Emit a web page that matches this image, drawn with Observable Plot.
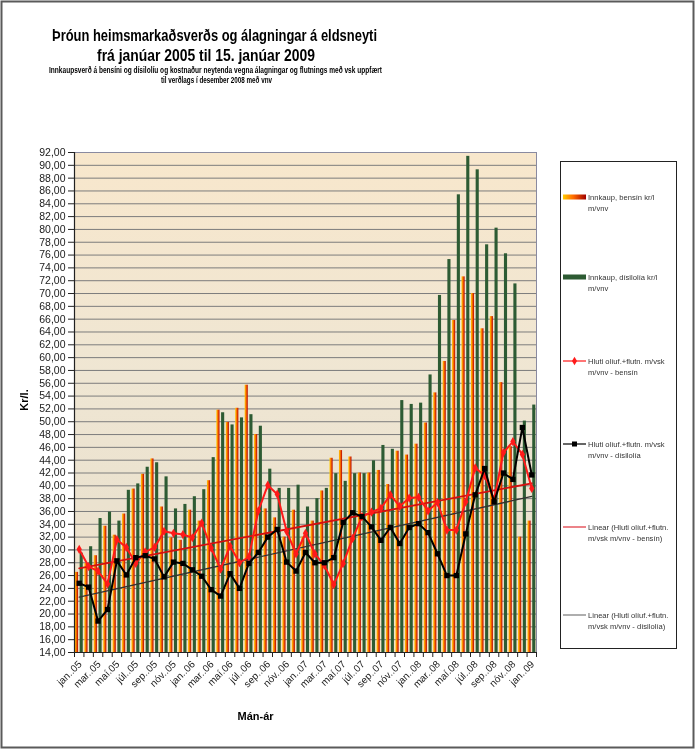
<!DOCTYPE html>
<html><head><meta charset="utf-8">
<script src="https://cdn.jsdelivr.net/npm/d3@7"></script>
<script src="https://cdn.jsdelivr.net/npm/@observablehq/plot@0.6"></script>
<style>
html,body{margin:0;padding:0;background:#fff;}
#wrap{position:relative;width:696px;height:750px;overflow:hidden;font-family:"Liberation Sans",Arial,sans-serif;}
#wrap svg{position:absolute;left:0;top:0;will-change:transform;}
</style></head><body><div id="wrap"></div>
<script>
// ---- data ----
const months = ["jan..05","feb..05","mar..05","apr..05","maí.05","jún..05","júl..05","ágú..05","sep..05","okt..05","nóv..05","des..05",
"jan..06","feb..06","mar..06","apr..06","maí.06","jún..06","júl..06","ágú..06","sep..06","okt..06","nóv..06","des..06",
"jan..07","feb..07","mar..07","apr..07","maí.07","jún..07","júl..07","ágú..07","sep..07","okt..07","nóv..07","des..07",
"jan..08","feb..08","mar..08","apr..08","maí.08","jún..08","júl..08","ágú..08","sep..08","okt..08","nóv..08","des..08","jan..09"];
const innkaupBensin = [26.5,27.9,29.1,33.7,32.3,35.6,39.5,41.8,44.2,36.7,31.9,31.5,
36.2,34.5,40.8,51.8,49.9,52.1,55.7,48.0,36.4,35.0,32.0,36.2,
32.0,34.5,39.2,44.3,45.5,44.5,42.0,42.0,42.4,40.2,45.4,44.8,
46.5,49.8,54.5,59.4,65.8,72.6,70.0,64.5,66.4,56.1,46.1,32.0,34.5];
const innkaupDisel = [29.5,30.5,34.9,35.9,34.5,39.3,40.3,42.9,43.6,41.4,36.4,37.1,
38.3,39.4,44.4,51.4,49.5,50.6,51.1,49.3,42.6,39.6,39.6,40.1,
36.7,38.0,39.6,41.9,40.7,41.9,41.9,43.9,46.3,45.7,53.3,52.7,
52.9,57.3,69.7,75.3,85.4,91.4,89.3,77.6,80.2,76.2,71.5,50.1,52.6];
const hlutiBensin = [30.1,27.4,26.7,24.7,31.6,30.4,27.9,29.7,30.4,32.9,32.6,32.4,
31.9,34.2,30.3,27.0,30.6,28.0,28.9,36.1,40.1,38.7,32.9,29.4,
32.6,29.4,27.6,24.6,27.9,31.8,35.2,35.9,36.5,38.6,36.8,38.1,
38.2,36.1,37.4,33.1,33.1,37.5,42.8,41.6,37.9,45.2,46.9,44.9,39.6];
const hlutiDisel = [24.8,24.2,18.9,20.7,28.3,26.1,28.8,29.1,28.6,25.8,28.1,27.9,
26.9,25.9,23.8,22.8,26.3,24.0,27.9,29.6,32.0,33.2,28.1,26.7,
29.6,28.0,28.0,28.8,34.3,35.8,35.2,33.6,31.5,33.5,31.0,33.5,
34.1,32.7,29.4,26.0,26.0,32.5,38.6,42.7,37.5,42.0,41.0,49.1,41.7];
const tickLabels = ["jan..05","mar..05","maí.05","júl..05","sep..05","nóv..05","jan..06","mar..06","maí.06","júl..06","sep..06","nóv..06",
"jan..07","mar..07","maí.07","júl..07","sep..07","nóv..07","jan..08","mar..08","maí.08","júl..08","sep..08","nóv..08","jan..09"];
const yTicks = d3.range(14, 92.1, 2);

const rows = months.map((m, i) => ({i, month: m, gas: innkaupBensin[i], dsl: innkaupDisel[i], hb: hlutiBensin[i], hd: hlutiDisel[i]}));

const chart = Plot.plot({
  width: 696, height: 750,
  marginLeft: 74, marginRight: 160, marginTop: 152, marginBottom: 98,
  x: {type: "linear", domain: [0, months.length], axis: null, label: null},
  y: {domain: [14, 92], axis: null, label: null},
  style: {background: "transparent", fontFamily: "'Liberation Sans', Arial, sans-serif", color: "#1a1a1a"},
  marks: [
    Plot.frame({fill: "url(#bgGrad)", stroke: null}),
    Plot.gridY(yTicks, {stroke: "#7c7c7c", strokeOpacity: 1, strokeWidth: 1}),
    Plot.rect(rows, {x1: d => d.i + 0.10, x2: d => d.i + 0.43, y1: 14, y2: "gas", fill: "url(#gasGrad)"}),
    Plot.rect(rows, {x1: d => d.i + 0.60, x2: d => d.i + 0.93, y1: 14, y2: "dsl", fill: "#2d5b33"}),
    Plot.linearRegressionY(rows, {x: d => d.i + 0.5, y: "hd", stroke: "#333333", strokeWidth: 1.3, ci: 0}),
    Plot.linearRegressionY(rows, {x: d => d.i + 0.5, y: "hb", stroke: "#d41010", strokeWidth: 1.8, ci: 0}),
    Plot.line(rows, {x: d => d.i + 0.5, y: "hb", stroke: "#ff1a1a", strokeWidth: 2}),
    Plot.dot(rows, {x: d => d.i + 0.5, y: "hb", symbol: "diamond", r: 2.8, fill: "#ff1a1a", stroke: null}),
    Plot.line(rows, {x: d => d.i + 0.5, y: "hd", stroke: "#000", strokeWidth: 2}),
    Plot.dot(rows, {x: d => d.i + 0.5, y: "hd", symbol: "square", r: 3, fill: "#000", stroke: null}),
    Plot.ruleY([92], {stroke: "#8a8aa0"}),
    Plot.ruleX([months.length], {stroke: "#8a8aa0"}),
    Plot.ruleX([0], {stroke: "#222", strokeWidth: 1.2}),
    Plot.ruleY([14], {stroke: "#222", strokeWidth: 1.2}),
    Plot.axisY(yTicks, {tickFormat: d => d.toFixed(2).replace(".", ","), tickSize: 6, tickPadding: 3, fontSize: 10.5, stroke: "#222"}),
    Plot.axisX(d3.range(0, months.length + 1), {tickFormat: () => "", tickSize: 5, stroke: "#222"}),
    Plot.text(tickLabels, {x: (d, i) => i * 2 + 0.5, y: 14, text: d => d, rotate: -45, textAnchor: "end", lineAnchor: "middle", dx: 1, dy: 10, fontSize: 10, fill: "#1a1a1a"})
  ]
});

const sel = d3.select(chart);
const defs = sel.insert("defs", ":first-child");
const bg = defs.append("linearGradient").attr("id", "bgGrad").attr("x1", 0).attr("y1", 0).attr("x2", 0).attr("y2", 1);
[[0, "#f8e7cc"], [0.45, "#efe6d3"], [0.7, "#ebe2cf"], [1, "#f5e2c8"]].forEach(([o, c]) => bg.append("stop").attr("offset", o).attr("stop-color", c));
const gg = defs.append("linearGradient").attr("id", "gasGrad").attr("x1", 0).attr("y1", 0).attr("x2", 1).attr("y2", 0);
[[0, "#ffcc00"], [0.4, "#ff7a00"], [1, "#b40000"]].forEach(([o, c]) => gg.append("stop").attr("offset", o).attr("stop-color", c));

document.getElementById("wrap").appendChild(chart);

// ---- overlay: titles, axis titles, legend, border ----
const ov = d3.select("#wrap").append("svg").attr("width", 696).attr("height", 750)
  .style("font-family", "'Liberation Sans', Arial, sans-serif");
const odefs = ov.append("defs");
const lg = odefs.append("linearGradient").attr("id", "legGrad").attr("x1", 0).attr("x2", 1).attr("y1", 0).attr("y2", 0);
[[0, "#ffcc00"], [0.45, "#ff6a00"], [1, "#a00000"]].forEach(([o, c]) => lg.append("stop").attr("offset", o).attr("stop-color", c));

ov.append("rect").attr("x", 1.5).attr("y", 1.5).attr("width", 692).attr("height", 746)
  .attr("fill", "none").attr("stroke", "#5a5a5a").attr("stroke-width", 2);

function t(x, y, s, size, len, weight, anchor) {
  const e = ov.append("text").attr("x", x).attr("y", y).attr("font-size", size)
    .attr("font-weight", weight || "normal").attr("text-anchor", anchor || "start").attr("fill", "#000").text(s);
  if (len) e.attr("textLength", len).attr("lengthAdjust", "spacingAndGlyphs");
  return e;
}
t(52, 41, "Þróun heimsmarkaðsverðs og álagningar á eldsneyti", 17, 325, "bold");
t(97, 61, "frá janúar 2005 til 15. janúar 2009", 17, 218, "bold");
t(49, 73, "Innkaupsverð á bensíni og dísilolíu og kostnaður neytenda vegna álagningar og flutnings með vsk uppfært", 9, 333, "bold");
t(161, 83, "til verðlags í desember 2008 með vnv", 9, 111, "bold");
t(255.5, 720, "Mán-ár", 11, null, "bold", "middle");
ov.append("text").attr("transform", "translate(28,400) rotate(-90)").attr("text-anchor", "middle")
  .attr("font-size", 11).attr("font-weight", "bold").text("Kr/l.");

// legend
ov.append("rect").attr("x", 560.5).attr("y", 161.5).attr("width", 116).attr("height", 487)
  .attr("fill", "#fff").attr("stroke", "#222").attr("stroke-width", 1);
const legendItems = [
  {y: 197, kind: "grad", l1: "Innkaup, bensín kr/l", l2: "m/vnv"},
  {y: 277, kind: "green", l1: "Innkaup, dísilolía kr/l", l2: "m/vnv"},
  {y: 361, kind: "red", l1: "Hluti olíuf.+flutn. m/vsk", l2: "m/vnv - bensín"},
  {y: 444, kind: "black", l1: "Hluti olíuf.+flutn. m/vsk", l2: "m/vnv - dísilolía"},
  {y: 527, kind: "redTrend", l1: "Linear (Hluti olíuf.+flutn.", l2: "m/vsk m/vnv - bensín)"},
  {y: 615, kind: "grayTrend", l1: "Linear (Hluti olíuf.+flutn.", l2: "m/vsk m/vnv - dísilolía)"}
];
legendItems.forEach(it => {
  const x0 = 563, x1 = 586;
  if (it.kind === "grad") ov.append("rect").attr("x", x0).attr("y", it.y - 2.5).attr("width", x1 - x0).attr("height", 5).attr("fill", "url(#legGrad)");
  if (it.kind === "green") ov.append("rect").attr("x", x0).attr("y", it.y - 2.5).attr("width", x1 - x0).attr("height", 5).attr("fill", "#2d5b33");
  if (it.kind === "red") {
    ov.append("line").attr("x1", x0).attr("x2", x1).attr("y1", it.y).attr("y2", it.y).attr("stroke", "#ff1a1a").attr("stroke-width", 1.2);
    ov.append("path").attr("d", d3.symbol(d3.symbolDiamond, 22)()).attr("transform", `translate(${(x0 + x1) / 2},${it.y})`).attr("fill", "#ff1a1a");
  }
  if (it.kind === "black") {
    ov.append("line").attr("x1", x0).attr("x2", x1).attr("y1", it.y).attr("y2", it.y).attr("stroke", "#000").attr("stroke-width", 1.2);
    ov.append("rect").attr("x", (x0 + x1) / 2 - 2.5).attr("y", it.y - 2.5).attr("width", 5).attr("height", 5).attr("fill", "#000");
  }
  if (it.kind === "redTrend") ov.append("line").attr("x1", x0).attr("x2", x1).attr("y1", it.y).attr("y2", it.y).attr("stroke", "#e0303a").attr("stroke-width", 1.2);
  if (it.kind === "grayTrend") ov.append("line").attr("x1", x0).attr("x2", x1).attr("y1", it.y).attr("y2", it.y).attr("stroke", "#777").attr("stroke-width", 1.2);
  ov.append("text").attr("x", 588).attr("y", it.y + 2.5).attr("font-size", 7.6).attr("fill", "#333").text(it.l1);
  ov.append("text").attr("x", 588).attr("y", it.y + 13.5).attr("font-size", 7.6).attr("fill", "#333").text(it.l2);
});
</script>
</body></html>
